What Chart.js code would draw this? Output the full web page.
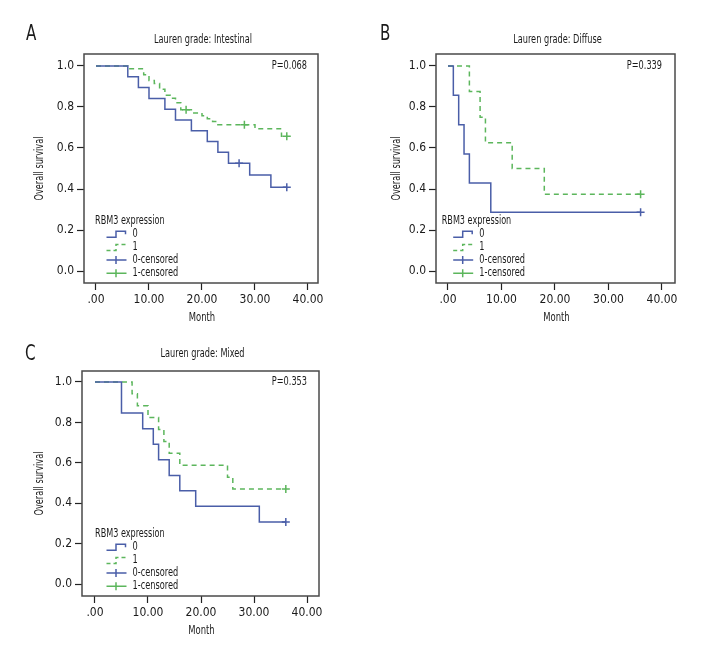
<!DOCTYPE html>
<html>
<head>
<meta charset="utf-8">
<script src="https://cdn.jsdelivr.net/npm/chart.js@4.4.0/dist/chart.umd.min.js"></script>
<style>
html, body { margin: 0; padding: 0; background: #fff; }
#wrap { position: relative; width: 720px; height: 672px; overflow: hidden; }
.panel { position: absolute; }
</style>
</head>
<body>
<div id="wrap">
  <canvas id="chartA" class="panel" width="360" height="336" style="left:0;top:0"></canvas>
  <canvas id="chartB" class="panel" width="360" height="336" style="left:360px;top:0"></canvas>
  <canvas id="chartC" class="panel" width="360" height="329" style="left:0;top:320px"></canvas>
</div>
<script>
// tick labels
var xTicks = [0, 10, 20, 30, 40];
var xTickLabels = ['.00', '10.00', '20.00', '30.00', '40.00'];
var yTicks = [0, 0.2, 0.4, 0.6, 0.8, 1.0];
var yTickLabels = ['0.0', '0.2', '0.4', '0.6', '0.8', '1.0'];
var legendItems = ['0', '1', '0-censored', '1-censored'];

// A: Lauren grade Intestinal
var timesA0 = [0, 6, 8, 10, 13, 15, 18, 21, 23, 25, 29, 33, 36];
var survA0 = [1, 0.947, 0.895, 0.842, 0.789, 0.737, 0.684, 0.632, 0.579, 0.526, 0.468, 0.409, 0.409];
var censA0 = [27, 36];
var timesA1 = [0, 6, 9, 10, 11, 12, 13, 14, 15, 16, 18, 20, 21, 22, 23, 30, 35, 36];
var survA1 = [1, 0.986, 0.957, 0.929, 0.914, 0.886, 0.857, 0.843, 0.821, 0.786, 0.771, 0.757, 0.743, 0.729, 0.714, 0.694, 0.657, 0.657];
var censA1 = [17, 28, 36];

// B: Lauren grade Diffuse
var timesB0 = [0, 1, 2, 3, 4, 8, 36];
var survB0 = [1, 0.857, 0.714, 0.571, 0.429, 0.286, 0.286];
var censB0 = [36];
var timesB1 = [0, 4, 6, 7, 12, 18, 36];
var survB1 = [1, 0.875, 0.75, 0.625, 0.5, 0.375, 0.375];
var censB1 = [36];

// C: Lauren grade Mixed
var timesC0 = [0, 5, 9, 11, 12, 14, 16, 19, 31, 36];
var survC0 = [1, 0.846, 0.769, 0.692, 0.615, 0.538, 0.462, 0.385, 0.308, 0.308];
var censC0 = [36];
var timesC1 = [0, 7, 8, 10, 12, 13, 14, 16, 25, 26, 36];
var survC1 = [1, 0.941, 0.882, 0.824, 0.765, 0.706, 0.647, 0.588, 0.529, 0.471, 0.471];
var censC1 = [36];

var fontFamily = "'DejaVu Sans Condensed', 'DejaVu Sans', sans-serif";
var blue = '#4a5ea8';
var green = '#5cb65c';
var textColor = '#1a1a1a';

function stepData(times, surv){
    var pts = [];
    for(var i = 0; i < times.length; i++) pts.push({x: times[i], y: surv[i]});
    return pts;
}

function survAt(times, surv, t){
    var s = surv[0];
    for(var i = 0; i < times.length; i++){
        if(times[i] <= t) s = surv[i];
    }
    return s;
}

function censorData(times, surv, cens){
    return cens.map(function(t){ return {x: t, y: survAt(times, surv, t)}; });
}

// the original uses a narrow font, so squeeze the text sideways
function narrowText(ctx, text, x, y, sx, rot){
    ctx.save();
    ctx.translate(x, y);
    if(rot) ctx.rotate(rot);
    ctx.scale(sx, 1);
    ctx.fillText(text, 0, 0);
    ctx.restore();
}

// frame, letters, titles, p-values and the legend
var kmDecor = {
    id: 'kmDecor',
    afterDraw: function(chart, args, o){
        var ctx = chart.ctx;
        var a = chart.chartArea;
        ctx.save();

        ctx.strokeStyle = '#4a4a4a';
        ctx.lineWidth = 1.5;
        ctx.strokeRect(a.left, a.top, a.right - a.left, a.bottom - a.top);

        ctx.fillStyle = textColor;
        ctx.textBaseline = 'alphabetic';
        ctx.textAlign = 'left';
        ctx.font = '21px ' + fontFamily;
        narrowText(ctx, o.letter, o.letterX, 40, 0.8);

        ctx.font = '13px ' + fontFamily;
        ctx.textAlign = 'center';
        ctx.textBaseline = 'middle';
        narrowText(ctx, o.title, (a.left + a.right) / 2 + 2, o.titleY, 0.7);

        // axis titles
        narrowText(ctx, 'Month', (a.left + a.right) / 2 + 1, a.bottom + 34.5, 0.72);
        narrowText(ctx, 'Overall survival', o.yTitleX, (a.top + a.bottom) / 2, 0.7, -Math.PI / 2);

        ctx.textAlign = 'right';
        narrowText(ctx, o.pval, a.right - o.pRight, chart.scales.y.getPixelForValue(1), 0.7);

        // legend
        var lx = a.left + o.legX;
        var rows = [-62.3, -49.7, -36.5, -23, -9.8];
        ctx.textAlign = 'left';
        ctx.font = '12.5px ' + fontFamily;
        narrowText(ctx, 'RBM3 expression', lx, a.bottom + rows[0], 0.72);
        var sx = lx + 11.5, ex = lx + 31.5, mx = lx + 21;
        ctx.lineWidth = 1.5;
        for(var i = 0; i < legendItems.length; i++){
            var y = a.bottom + rows[i + 1];
            var col = (i % 2 === 0) ? blue : green;
            ctx.strokeStyle = col;
            ctx.setLineDash(i === 1 ? [4, 3] : []);
            ctx.beginPath();
            if(i < 2){
                ctx.moveTo(sx, y + 4);
                ctx.lineTo(mx, y + 4);
                ctx.lineTo(mx, y - 2);
                ctx.lineTo(ex - 1, y - 2);
                ctx.lineTo(ex - 1, y + 1);
            } else {
                ctx.moveTo(sx, y);
                ctx.lineTo(ex, y);
                ctx.moveTo(mx, y - 4);
                ctx.lineTo(mx, y + 4);
            }
            ctx.stroke();
            ctx.setLineDash([]);
            ctx.fillStyle = textColor;
            narrowText(ctx, legendItems[i], lx + 37.5, y, 0.73);
        }
        ctx.restore();
    }
};

function makePanel(id, p){
    return new Chart(document.getElementById(id).getContext('2d'), {
        type: 'scatter',
        data: {
            datasets: [
                {
                    label: '0',
                    data: stepData(p.t0, p.s0),
                    showLine: true, stepped: true,
                    borderColor: blue, borderWidth: 1.5,
                    pointRadius: 0
                },
                {
                    label: '1',
                    data: stepData(p.t1, p.s1),
                    showLine: true, stepped: true,
                    borderColor: green, borderWidth: 1.5, borderDash: [5, 4],
                    pointRadius: 0
                },
                {
                    label: '0-censored',
                    data: censorData(p.t0, p.s0, p.c0),
                    showLine: false,
                    pointStyle: 'cross', pointRadius: 4,
                    borderColor: blue, borderWidth: 1.5
                },
                {
                    label: '1-censored',
                    data: censorData(p.t1, p.s1, p.c1),
                    showLine: false,
                    pointStyle: 'cross', pointRadius: 4,
                    borderColor: green, borderWidth: 1.5
                }
            ]
        },
        options: {
            responsive: false,
            animation: false,
            events: [],
            layout: { padding: { top: p.top, right: p.right, left: 0, bottom: 0 } },
            plugins: {
                legend: { display: false },
                tooltip: { enabled: false },
                kmDecor: p.decor
            },
            scales: {
                x: {
                    type: 'linear',
                    min: p.xmin, max: p.xmax,
                    afterFit: function(s){ s.height = p.xh; },
                    afterBuildTicks: function(s){ s.ticks = xTicks.map(function(v){ return {value: v}; }); },
                    grid: { drawOnChartArea: false, drawTicks: true, tickLength: 7, tickColor: '#222', tickWidth: 1.2 },
                    border: { display: false },
                    ticks: {
                        callback: function(v, i){ return xTickLabels[i]; },
                        font: { family: fontFamily, size: 12 },
                        color: textColor, padding: 3, maxRotation: 0, autoSkip: false
                    }
                },
                y: {
                    type: 'linear',
                    min: p.ymin, max: p.ymax,
                    afterFit: function(s){ s.width = p.yw; },
                    afterBuildTicks: function(s){ s.ticks = yTicks.map(function(v){ return {value: v}; }); },
                    grid: { drawOnChartArea: false, drawTicks: true, tickLength: 7, tickColor: '#222', tickWidth: 1.2 },
                    border: { display: false },
                    ticks: {
                        callback: function(v, i){ return yTickLabels[i]; },
                        font: { family: fontFamily, size: 12 },
                        color: textColor, padding: 3, autoSkip: false
                    }
                }
            }
        },
        plugins: [kmDecor]
    });
}

makePanel('chartA', {
    t0: timesA0, s0: survA0, c0: censA0, t1: timesA1, s1: survA1, c1: censA1,
    top: 54, right: 42, yw: 84, xh: 53,
    xmin: -2.264, xmax: 41.89, ymin: -0.0585, ymax: 1.0585,
    decor: { letter: 'A', letterX: 26, title: 'Lauren grade: Intestinal', titleY: 40, yTitleX: 40, pval: 'P=0.068', pRight: 11, legX: 11 }
});

makePanel('chartB', {
    t0: timesB0, s0: survB0, c0: censB0, t1: timesB1, s1: survB1, c1: censB1,
    top: 54, right: 45, yw: 76, xh: 53,
    xmin: -2.24, xmax: 42.43, ymin: -0.0585, ymax: 1.0585,
    decor: { letter: 'B', letterX: 20, title: 'Lauren grade: Diffuse', titleY: 40, yTitleX: 36.7, pval: 'P=0.339', pRight: 13, legX: 5.7 }
});

makePanel('chartC', {
    t0: timesC0, s0: survC0, c0: censC0, t1: timesC1, s1: survC1, c1: censC1,
    top: 51, right: 41, yw: 82, xh: 53,
    xmin: -2.45, xmax: 42.26, ymin: -0.058, ymax: 1.054,
    decor: { letter: 'C', letterX: 25, title: 'Lauren grade: Mixed', titleY: 33.3, yTitleX: 40, pval: 'P=0.353', pRight: 12, legX: 13 }
});
</script>
</body>
</html>
